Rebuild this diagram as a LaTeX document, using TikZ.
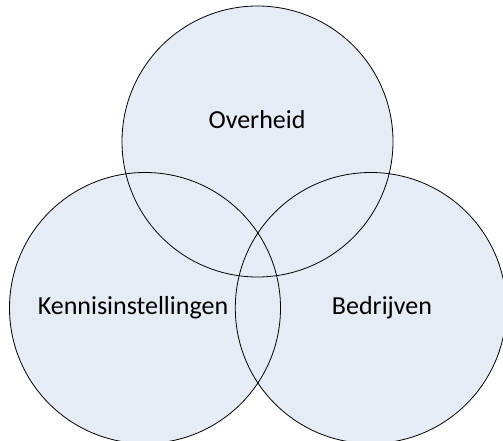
\documentclass[tikz,border=0pt]{standalone}
\usepackage{fontspec}
\setmainfont{Carlito}
\definecolor{setfill}{RGB}{230,236,246}
\begin{document}
\begin{tikzpicture}[x=1bp,y=-1bp,
  setcircle/.style={circle,minimum size=271bp,inner sep=0pt},
  setlabel/.style={font=\fontsize{26bp}{30bp}\selectfont,inner sep=0pt}]
  \useasboundingbox (0,0) rectangle (503,441);
  \clip (0,0) rectangle (503,441);
  % fills first so every outline stays visible
  \node[setcircle,fill=setfill] (top) at (257.5,141.5) {};
  \node[setcircle,fill=setfill] (left) at (145,308) {};
  \node[setcircle,fill=setfill] (right) at (370.8,308) {};
  % outlines
  \foreach \c in {top,left,right}
    \draw[line width=0.8bp] (\c.center) circle[radius=135.5bp];
  % labels
  \node[setlabel] (overheid) at (257,120) {Overheid};
  \node[setlabel] (kennis) at (133,308) {Kennisinstellingen};
  \node[setlabel] (bedrijven) at (382,308) {Bedrijven};
\end{tikzpicture}
\end{document}
